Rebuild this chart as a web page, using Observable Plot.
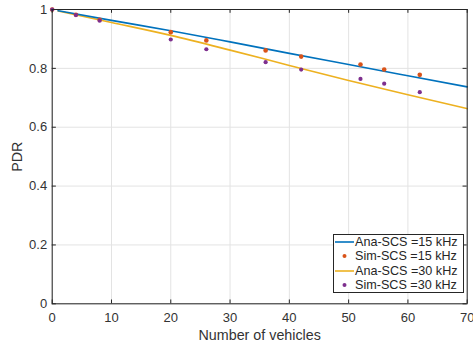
<!DOCTYPE html>
<html>
<head>
<meta charset="utf-8">
<script src="https://cdn.jsdelivr.net/npm/d3@7"></script>
<script src="https://cdn.jsdelivr.net/npm/@observablehq/plot@0.6"></script>
<style>
  html, body { margin: 0; padding: 0; background: #fff; }
  #wrap { position: relative; width: 473px; height: 348px; font-family: "Liberation Sans", Arial, sans-serif; }
  #legend { position: absolute; left: 333px; top: 234px; width: 131px; border: 1px solid #262626; background: #fff; box-sizing: border-box; }
  .row { height: 14.3px; display: flex; align-items: center; font-size: 12.6px; color: #262626; white-space: nowrap; }
  .sw { width: 20px; height: 14px; margin-right: 1px; flex: none; }
</style>
</head>
<body>
<div id="wrap"></div>
<script>
// Analytical curves (x = number of vehicles)
const anaX = [1, 10, 20, 30, 40, 50, 60, 70];
const ana15 = [0.996, 0.963, 0.928, 0.890, 0.851, 0.813, 0.775, 0.737];
const ana30 = [0.995, 0.956, 0.912, 0.862, 0.810, 0.759, 0.710, 0.663];
// Simulation points
const simX = [0, 4, 8, 20, 26, 36, 42, 52, 56, 62];
const sim15 = [1.0, 0.982, 0.965, 0.923, 0.895, 0.861, 0.840, 0.813, 0.796, 0.778];
const sim30 = [1.0, 0.981, 0.962, 0.898, 0.865, 0.821, 0.796, 0.764, 0.748, 0.719];
const xTicks = [0, 10, 20, 30, 40, 50, 60, 70];
const yTicks = [0, 0.2, 0.4, 0.6, 0.8, 1];
const yTickLabels = ["0", "0.2", "0.4", "0.6", "0.8", "1"];
const seriesNames = ["Ana-SCS =15 kHz", "Sim-SCS =15 kHz", "Ana-SCS =30 kHz", "Sim-SCS =30 kHz"];
const colors = { blue: "#0072BD", orange: "#D95319", yellow: "#EDB120", purple: "#7E2F8E" };

const a15 = anaX.map((x, i) => ({ x, y: ana15[i] }));
const a30 = anaX.map((x, i) => ({ x, y: ana30[i] }));
const s15 = simX.map((x, i) => ({ x, y: sim15[i] }));
const s30 = simX.map((x, i) => ({ x, y: sim30[i] }));

const axisColor = "#262626";
const chart = Plot.plot({
  width: 473,
  height: 348,
  marginLeft: 51.7,
  marginRight: 6.3,
  marginTop: 9,
  marginBottom: 44.7,
  style: { fontFamily: "Liberation Sans, Arial, sans-serif", fontSize: "13px", color: "#333", background: "#fff" },
  x: { domain: [0, 70] },
  y: { domain: [0, 1] },
  marks: [
    Plot.gridX(xTicks, { stroke: "#e3e3e3", strokeOpacity: 1, strokeWidth: 1 }),
    Plot.gridY(yTicks, { stroke: "#e3e3e3", strokeOpacity: 1, strokeWidth: 1 }),
    Plot.line(a30, { x: "x", y: "y", stroke: colors.yellow, strokeWidth: 1.6, curve: "monotone-x" }),
    Plot.line(a15, { x: "x", y: "y", stroke: colors.blue, strokeWidth: 1.6, curve: "monotone-x" }),
    Plot.dot(s15, { x: "x", y: "y", fill: colors.orange, r: 2.3 }),
    Plot.dot(s30, { x: "x", y: "y", fill: colors.purple, r: 2.1 }),
    Plot.ruleX(xTicks, { x: d => d, y1: 0, y2: 0.013, stroke: axisColor }),
    Plot.ruleX(xTicks, { x: d => d, y1: 1, y2: 0.987, stroke: axisColor }),
    Plot.ruleY(yTicks, { y: d => d, x1: 0, x2: 0.7, stroke: axisColor }),
    Plot.ruleY(yTicks, { y: d => d, x1: 70, x2: 69.3, stroke: axisColor }),
    Plot.frame({ stroke: axisColor, strokeWidth: 1 }),
    Plot.axisX(xTicks, { tickSize: 0, tickPadding: 9, tickFormat: d => String(d), label: "Number of vehicles", labelAnchor: "center", labelArrow: "none", labelOffset: 36, fontSize: 13 }),
    Plot.axisY(yTicks, { tickSize: 0, tickPadding: 5, tickFormat: (d, i) => yTickLabels[i], label: "PDR", labelAnchor: "center", labelArrow: "none", labelOffset: 40, fontSize: 13 })
  ]
});
const wrap = document.getElementById("wrap");
wrap.appendChild(chart);
// enlarge axis titles slightly (MATLAB 1.1x label multiplier)
chart.querySelectorAll("g[aria-label='x-axis label'] text, g[aria-label='y-axis label'] text").forEach(t => t.setAttribute("font-size", "14.3"));

// Legend
const legend = document.createElement("div");
legend.id = "legend";
const kinds = ["line", "dot", "line", "dot"];
const legColors = [colors.blue, colors.orange, colors.yellow, colors.purple];
seriesNames.forEach((name, i) => {
  const row = document.createElement("div");
  row.className = "row";
  const sw = document.createElementNS("http://www.w3.org/2000/svg", "svg");
  sw.setAttribute("class", "sw");
  sw.setAttribute("width", "20"); sw.setAttribute("height", "14");
  if (kinds[i] === "line") {
    sw.innerHTML = `<line x1="1" x2="20" y1="7" y2="7" stroke="${legColors[i]}" stroke-width="1.6"/>`;
  } else {
    sw.innerHTML = `<circle cx="10.5" cy="7" r="2" fill="${legColors[i]}"/>`;
  }
  row.appendChild(sw);
  const t = document.createElement("span");
  t.textContent = name;
  row.appendChild(t);
  legend.appendChild(row);
});
wrap.appendChild(legend);
</script>
</body>
</html>
